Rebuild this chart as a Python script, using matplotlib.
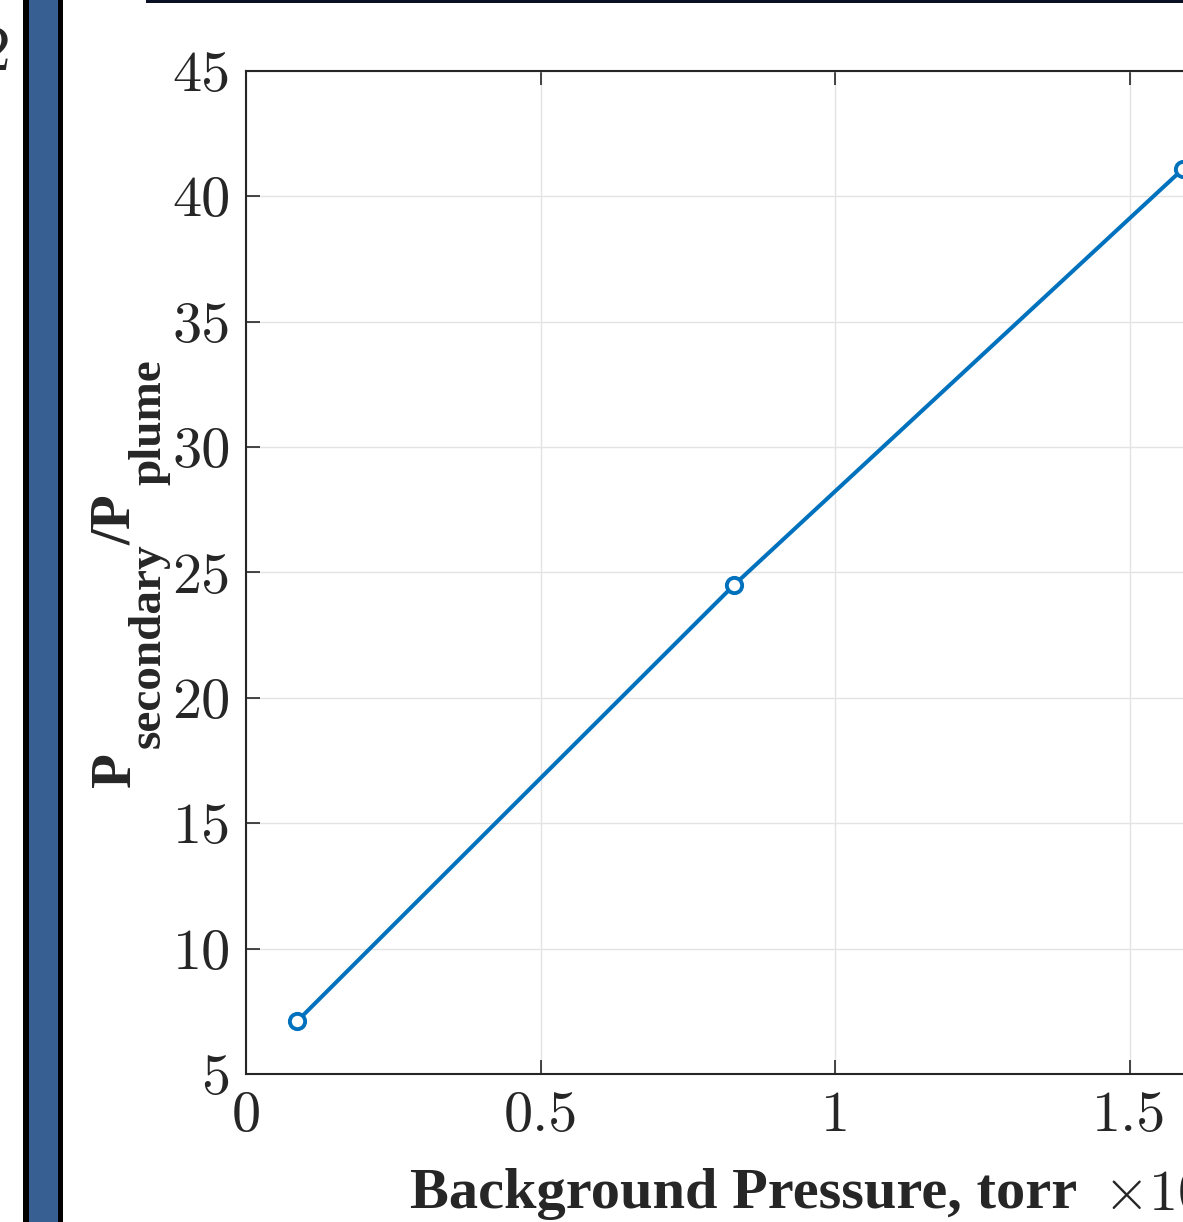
import matplotlib

matplotlib.use('Agg')
import matplotlib.pyplot as plt
from matplotlib.patches import Rectangle

# Datos
background_pressure = [0.0866, 0.8285, 1.591]   # torr (x1e-3)
pressure_ratio = [7.1, 24.5, 41.1]               # P_secondary / P_plume
x_ticks = [0, 0.5, 1, 1.5]
x_tick_labels = ['0', '0.5', '1', '1.5']
y_ticks = [5, 10, 15, 20, 25, 30, 35, 40, 45]

line_color = '#0072BD'
text_color = '#262626'
fs = 42
serif_bold = dict(fontfamily='Liberation Serif', fontweight='bold', color=text_color)

plt.rcParams['mathtext.fontset'] = 'custom'
plt.rcParams['mathtext.rm'] = 'cmr10'

W, H = 1183, 1222
fig = plt.figure(figsize=(W / 100, H / 100), dpi=100)


def fx(px):
    return px / W


def fy(py):
    return 1 - py / H


# Ejes (el borde derecho queda fuera de la imagen recortada)
left, right, top, bottom = 246, 246 + 1.7 * 589, 71, 1074
ax = fig.add_axes([fx(left), fy(bottom), (right - left) / W, (bottom - top) / H])
ax.plot(background_pressure, pressure_ratio, '-o', color=line_color, lw=2.9,
        ms=11, mfc='white', mec=line_color, mew=2.8, clip_on=False, zorder=3)
ax.set_xlim(0, 1.7)
ax.set_ylim(5, 45)
ax.set_xticks(x_ticks)
ax.set_xticklabels(x_tick_labels)
ax.set_yticks(y_ticks)
ax.set_yticklabels([str(v) for v in y_ticks])
for lab in ax.get_xticklabels() + ax.get_yticklabels():
    lab.set_fontfamily('cmr10')
    lab.set_fontsize(fs)
    lab.set_color(text_color)
ax.tick_params(direction='in', length=10, width=1.2, colors=text_color,
               top=True, right=True)
ax.tick_params(axis='x', pad=12)
ax.tick_params(axis='y', pad=11)
ax.grid(True, color='#e3e3e3', lw=1.0)
ax.set_axisbelow(True)
for s in ax.spines.values():
    s.set_color(text_color)
    s.set_linewidth(1.5)

# Etiqueta x
fig.text(fx(744), fy(1208), 'Background Pressure, torr', fontsize=fs,
         ha='center', va='baseline', **serif_bold)

# Etiqueta y construida por partes (subíndices estilo MATLAB)
ylabel_parts = [
    # texto, x de la línea base, y inicial, tamaño
    ('P', 130, 787, 41),
    ('secondary', 160, 748, 34),
    ('/P', 130, 545, 41),
    ('plume', 160, 485, 34),
]
for txt, xb, ys, size in ylabel_parts:
    fig.text(fx(xb), fy(ys), txt, fontsize=size, rotation=90,
             rotation_mode='anchor', ha='left', va='baseline', **serif_bold)

# Exponente del eje x (recortado en la imagen original)
fig.text(fx(1103), fy(1195), r'$\times10^{-3}$', fontsize=fs,
         color=text_color, va='center', ha='left')

# Elementos de la figura vecina que aparecen en el recorte
fig.patches.append(Rectangle((fx(23), 0), 40 / W, 1, transform=fig.transFigure,
                             facecolor='#375f91', edgecolor='none'))
fig.patches.append(Rectangle((fx(23), 0), 6 / W, 1, transform=fig.transFigure,
                             facecolor='black', edgecolor='none'))
fig.patches.append(Rectangle((fx(58), 0), 5 / W, 1, transform=fig.transFigure,
                             facecolor='black', edgecolor='none'))
fig.patches.append(Rectangle((fx(146), fy(3)), (W - 146) / W, 3 / H,
                             transform=fig.transFigure, facecolor='#0a1024',
                             edgecolor='none'))
fig.text(fx(11), fy(70), '2', fontfamily='cmr10', fontsize=46,
         color=text_color, ha='right', va='baseline')

fig.savefig('out.png', dpi=100)
